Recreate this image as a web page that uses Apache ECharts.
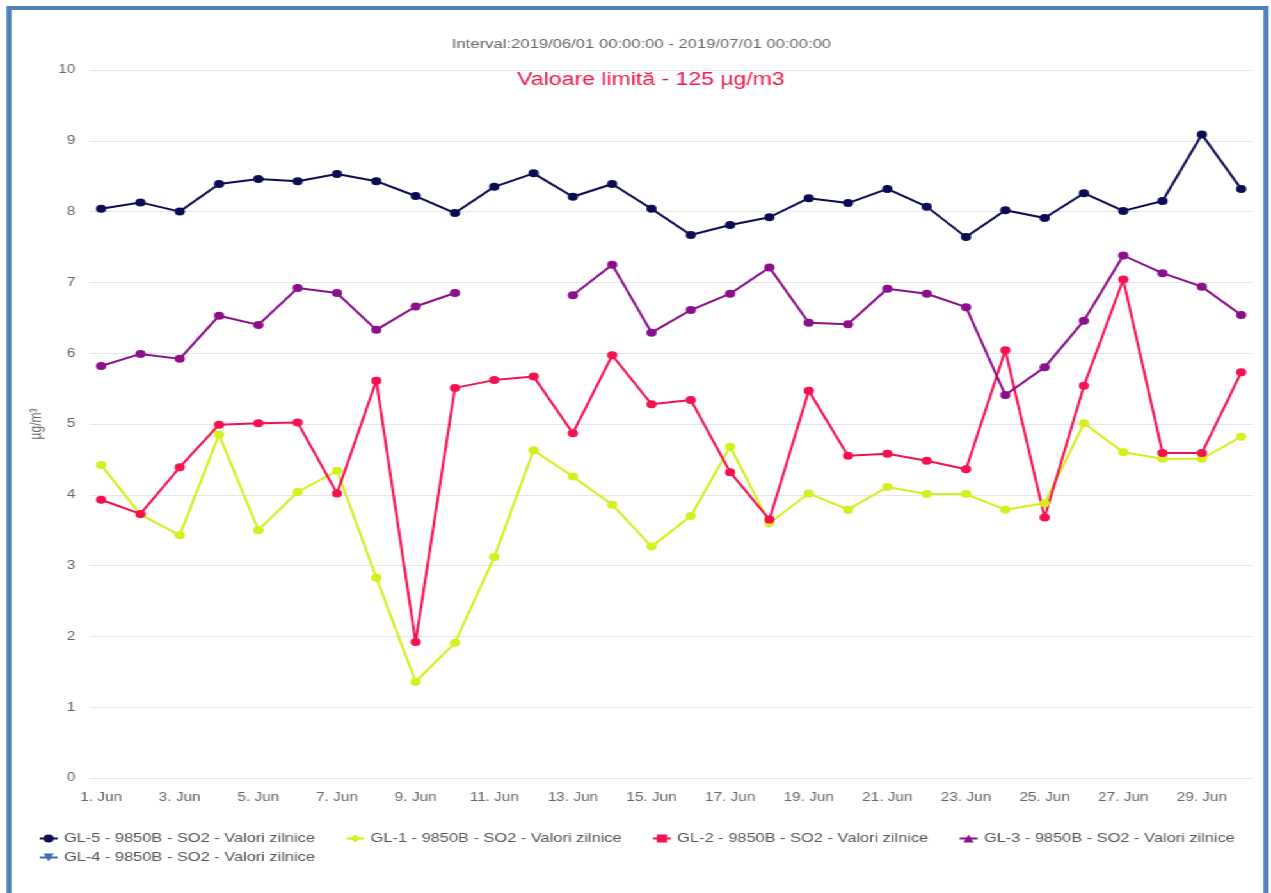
<!DOCTYPE html>
<html>
<head>
<meta charset="utf-8">
<title>SO2 - Valori zilnice</title>
<script src="https://cdn.jsdelivr.net/npm/echarts@6/dist/echarts.min.js"></script>
<style>
    html, body { margin: 0; padding: 0; background: #fff; overflow: hidden; }
    /* the original picture is stretched sideways, so the chart is drawn narrower and widened */
    #wrap {
        position: absolute; left: 0; top: 0;
        width: 993px; height: 893px;
        transform: scaleX(1.28); transform-origin: 0 0;
    }
    #frame {
        position: absolute; left: 4.7px; top: 6px;
        width: 986.7px; height: 900px;
        box-sizing: border-box;
        border: 4px solid #4f81bd;
    }
    #main { position: absolute; left: 0; top: 0; width: 993px; height: 893px; }
</style>
</head>
<body>
<div id="wrap">
    <div id="frame"></div>
    <div id="main"></div>
</div>
<script>
    // days of June 2019
    var days = [1, 2, 3, 4, 5, 6, 7, 8, 9, 10, 11, 12, 13, 14, 15, 16, 17, 18, 19, 20,
        21, 22, 23, 24, 25, 26, 27, 28, 29, 30];
    var labelDays = [1, 3, 5, 7, 9, 11, 13, 15, 17, 19, 21, 23, 25, 27, 29];

    var names = [
        'GL-5 - 9850B - SO2 - Valori zilnice',
        'GL-1 - 9850B - SO2 - Valori zilnice',
        'GL-2 - 9850B - SO2 - Valori zilnice',
        'GL-3 - 9850B - SO2 - Valori zilnice',
        'GL-4 - 9850B - SO2 - Valori zilnice'
    ];

    var gl5 = [8.04, 8.13, 8.00, 8.39, 8.46, 8.43, 8.53, 8.43, 8.22, 7.98, 8.35, 8.54, 8.21, 8.39, 8.04,
        7.67, 7.81, 7.92, 8.19, 8.12, 8.32, 8.07, 7.64, 8.02, 7.91, 8.26, 8.01, 8.15, 9.09, 8.32];
    var gl1 = [4.42, 3.72, 3.43, 4.85, 3.50, 4.04, 4.34, 2.83, 1.36, 1.91, 3.12, 4.63, 4.26, 3.86, 3.27,
        3.70, 4.68, 3.60, 4.02, 3.79, 4.11, 4.01, 4.01, 3.79, 3.88, 5.01, 4.60, 4.51, 4.51, 4.82];
    var gl2 = [3.93, 3.73, 4.39, 4.99, 5.01, 5.02, 4.02, 5.61, 1.92, 5.51, 5.62, 5.67, 4.87, 5.97, 5.28,
        5.34, 4.32, 3.65, 5.47, 4.55, 4.58, 4.48, 4.36, 6.04, 3.68, 5.54, 7.04, 4.59, 4.59, 5.73];
    var gl3 = [5.82, 5.99, 5.92, 6.53, 6.40, 6.92, 6.85, 6.33, 6.66, 6.85, null, null, 6.82, 7.25, 6.29,
        6.61, 6.84, 7.21, 6.43, 6.41, 6.91, 6.84, 6.65, 5.41, 5.80, 6.46, 7.38, 7.13, 6.94, 6.54];
    var gl4 = [];

    var colors = ['#0c0c55', '#d4ef1c', '#f51150', '#8b0f8b', '#3c6db4'];
    var legendSymbols = ['circle', 'diamond', 'rect', 'triangle', 'path://M0,0L10,0L5,9Z'];

    var chartDom = document.getElementById('main');
    var myChart = echarts.init(chartDom);
    var option;

    // markers in the plot are all round; the series symbol only shapes the legend icon
    function points(values) {
        return values.map(function (v, i) {
            return { value: [days[i], v == null ? '-' : v], symbol: 'circle' };
        });
    }

    function makeSeries(idx, values) {
        return {
            name: names[idx],
            type: 'line',
            data: points(values),
            symbol: legendSymbols[idx],
            symbolSize: 8,
            color: colors[idx],
            lineStyle: { width: 2 },
            emphasis: { disabled: true }
        };
    }

    option = {
        animation: false,
        backgroundColor: 'transparent',
        textStyle: { fontFamily: '"Liberation Sans", Arial, sans-serif' },
        title: [
            {
                text: 'Interval:2019/06/01 00:00:00 - 2019/07/01 00:00:00',
                left: 353,
                top: 38,
                padding: 0,
                textStyle: { fontSize: 13, fontWeight: 'normal', color: '#666' }
            },
            {
                text: 'Valoare limită - 125 µg/m3',
                left: 404,
                top: 71,
                padding: 0,
                textStyle: { fontSize: 18, fontWeight: 'normal', color: '#f2164e' }
            }
        ],
        legend: [
            {
                data: names.slice(0, 4),
                left: 30,
                top: 832,
                padding: 0,
                itemWidth: 14,
                itemHeight: 10,
                itemGap: 23.5,
                textStyle: { fontSize: 12.8, color: '#555' }
            },
            {
                data: names.slice(4),
                left: 30,
                top: 851,
                padding: 0,
                itemWidth: 14,
                itemHeight: 10,
                textStyle: { fontSize: 12.8, color: '#555' }
            }
        ],
        grid: { left: 69.8, right: 14.1, top: 70, bottom: 115 },
        xAxis: {
            type: 'value',
            min: 0.7,
            max: 30.3,
            axisLine: { show: false },
            axisTick: { show: false },
            splitLine: { show: false },
            axisLabel: {
                customValues: labelDays,
                formatter: function (v) { return v + '. Jun'; },
                color: '#666',
                fontSize: 12,
                margin: 14
            }
        },
        yAxis: {
            type: 'value',
            min: 0,
            max: 10,
            interval: 1,
            name: 'µg/m³',
            nameLocation: 'middle',
            nameGap: 34,
            nameTextStyle: { color: '#666', fontSize: 12 },
            axisLine: { show: false },
            axisTick: { show: false },
            axisLabel: { color: '#666', fontSize: 12, margin: 11 },
            splitLine: { lineStyle: { color: '#e6e6e6', width: 1 } }
        },
        series: [
            makeSeries(0, gl5),
            makeSeries(1, gl1),
            makeSeries(2, gl2),
            makeSeries(3, gl3),
            makeSeries(4, gl4)
        ]
    };

    option && myChart.setOption(option);
</script>
</body>
</html>
